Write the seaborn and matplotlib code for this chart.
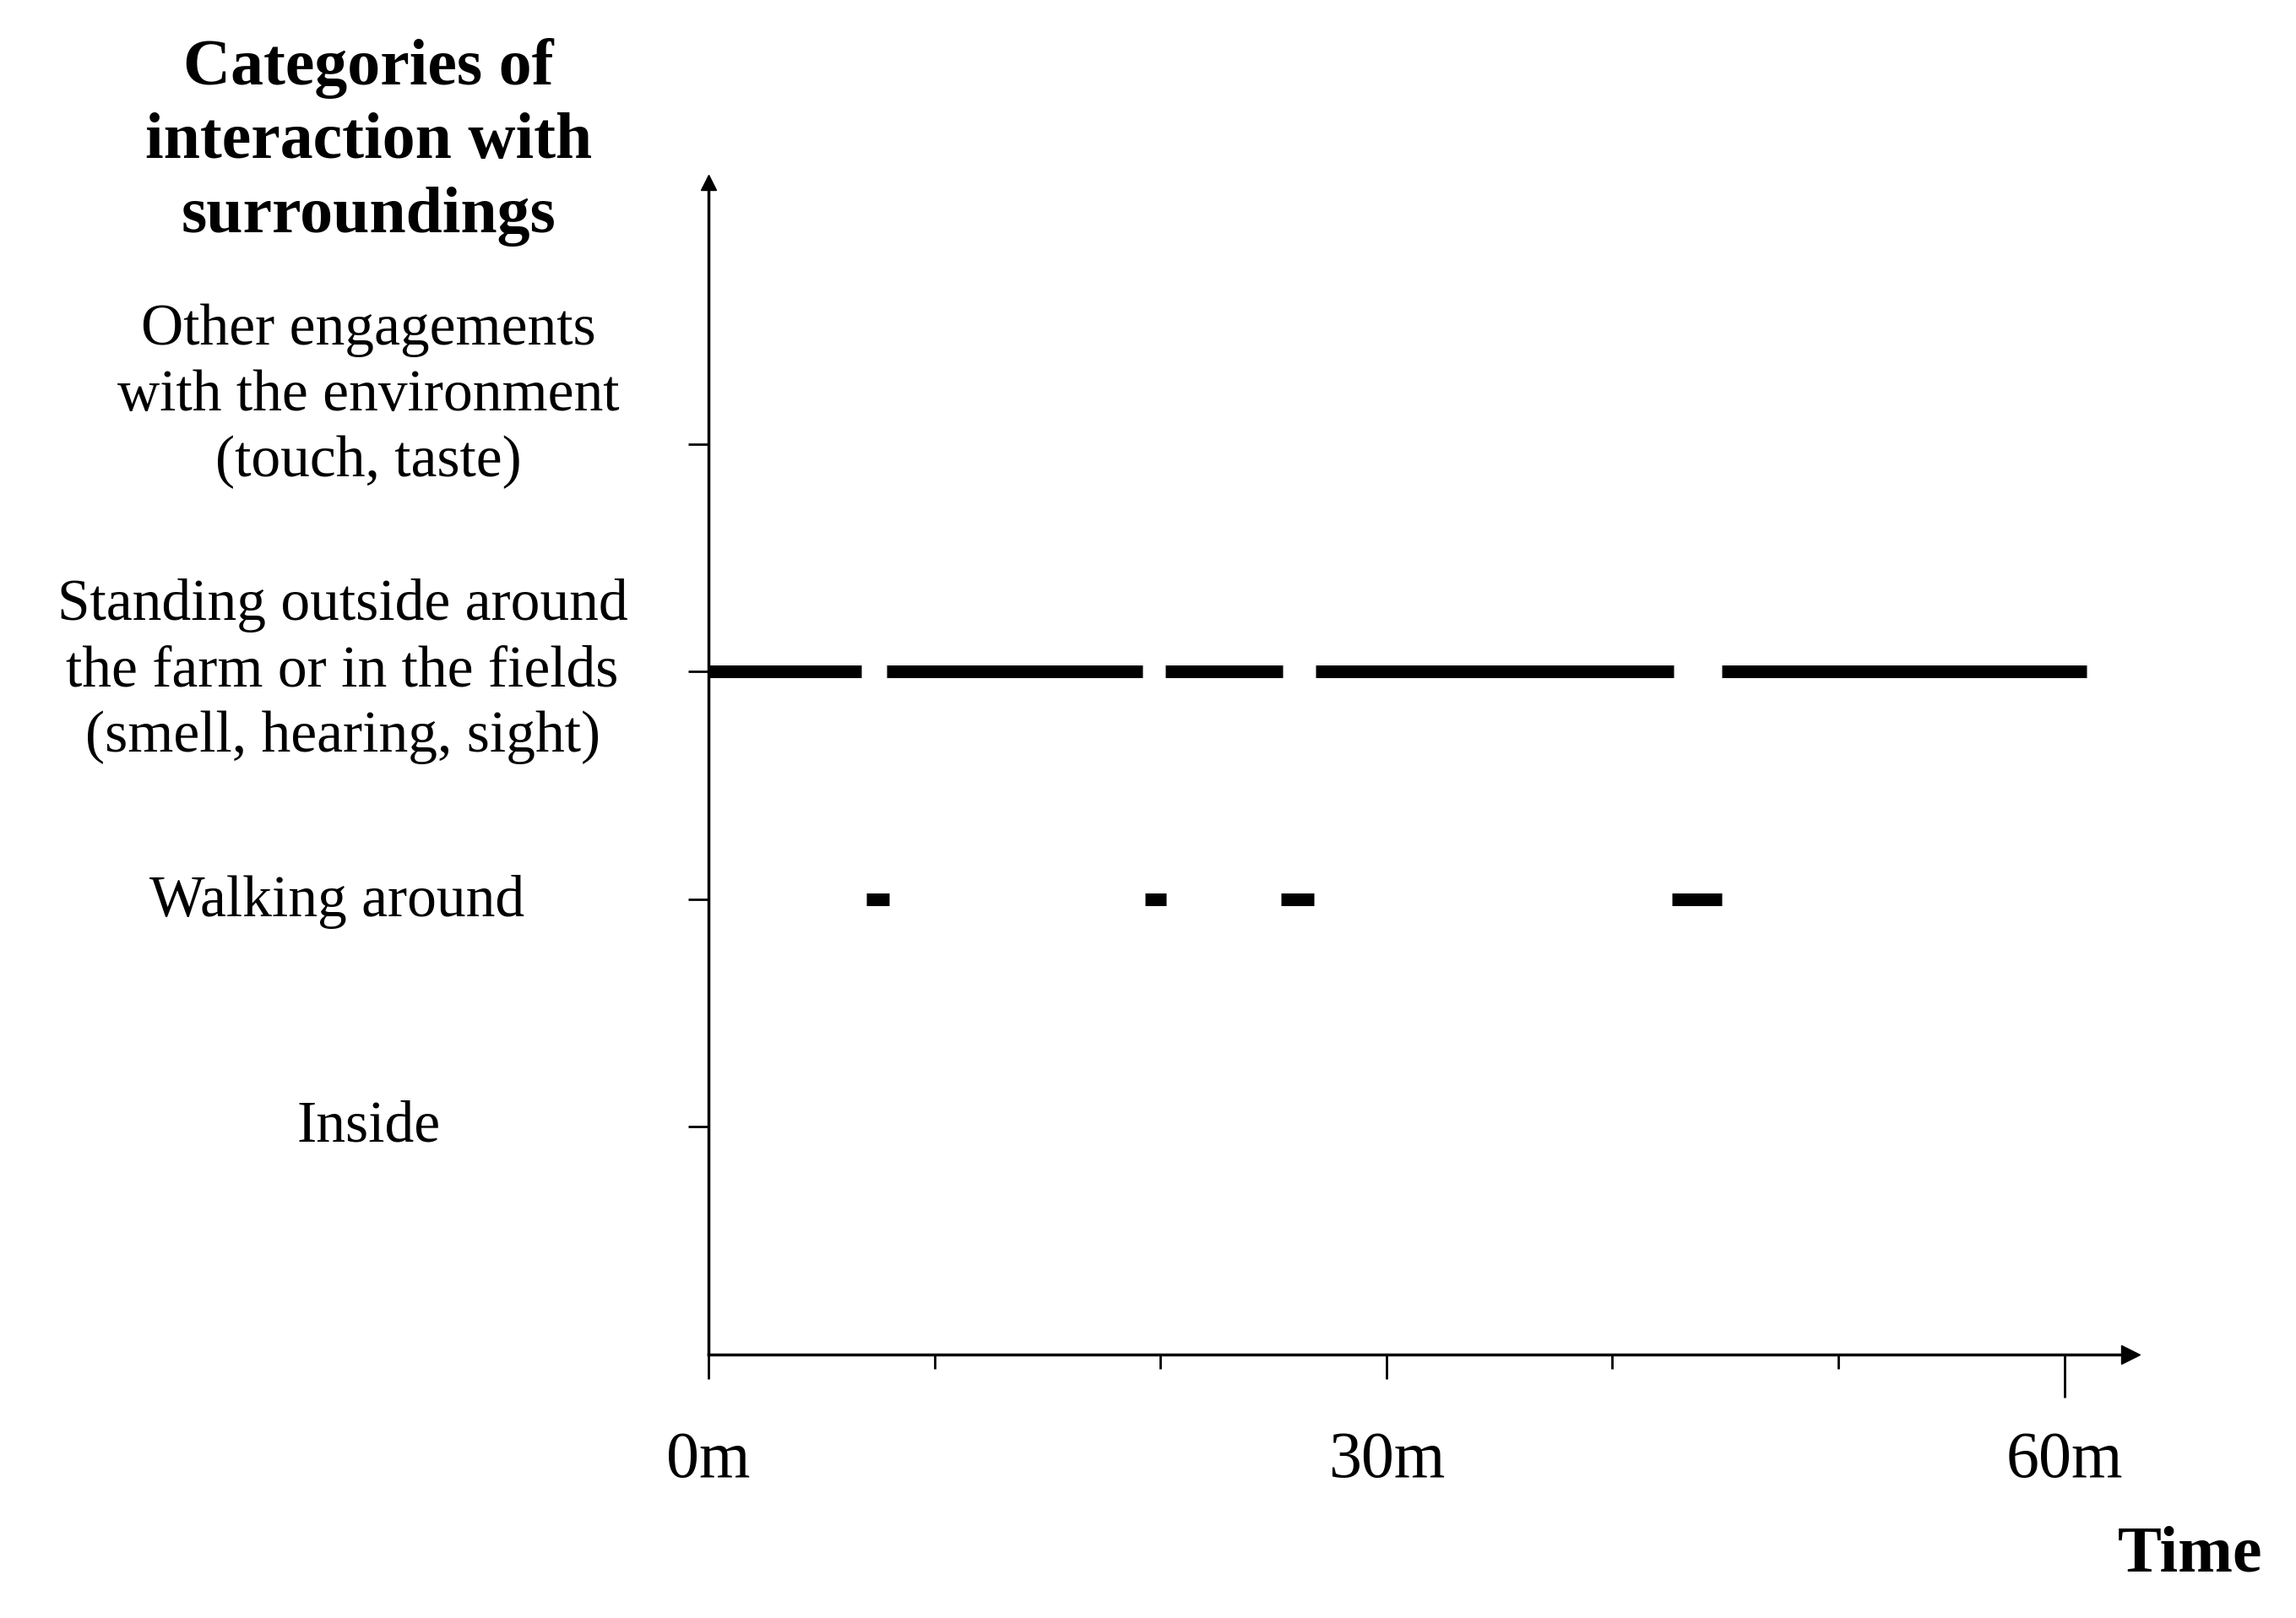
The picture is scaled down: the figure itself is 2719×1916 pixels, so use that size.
import numpy as np
import pandas as pd
import matplotlib
matplotlib.use("Agg")
import matplotlib.pyplot as plt
import seaborn as sns

# categories, bottom to top
categories = [
    "Inside",
    "Walking around",
    "Standing outside around\nthe farm or in the fields\n(smell, hearing, sight)",
    "Other engagements\nwith the environment\n(touch, taste)",
]
levels = [1, 2, 3, 4]

# time spans in minutes
standing_start = [0.0, 7.9, 20.2, 26.85, 44.85]
standing_end = [6.75, 19.2, 25.4, 42.7, 61.0]
walking_start = [7.0, 19.3, 25.35, 42.65]
walking_end = [8.0, 20.25, 26.8, 44.85]

tick_minutes = [0, 30, 60]
tick_labels = ["0m", "30m", "60m"]
minor_minutes = [10, 20, 40, 50]

rows = []
seg = 0
for lvl, starts, ends in [(3, standing_start, standing_end), (2, walking_start, walking_end)]:
    for s, e in zip(starts, ends):
        rows.append({"seg": seg, "minute": s, "level": lvl})
        rows.append({"seg": seg, "minute": e, "level": lvl})
        seg += 1
df = pd.DataFrame(rows)

sns.set_style("white")
plt.rcParams["font.family"] = ["Liberation Serif", "DejaVu Serif"]
plt.rcParams["text.color"] = "black"
plt.rcParams["xtick.color"] = "black"
plt.rcParams["ytick.color"] = "black"

fig = plt.figure(figsize=(27.19, 19.16), dpi=100)
ax = fig.add_axes([0.3086, 0.1628, 0.6193, 0.7247])

sns.lineplot(data=df, x="minute", y="level", units="seg", estimator=None,
             color="black", linewidth=10.8, solid_capstyle="butt",
             legend=False, ax=ax)

ax.set_xlim(0, 62.93)
ax.set_ylim(0, 5.15)

for side in ["top", "right"]:
    ax.spines[side].set_visible(False)
for side in ["left", "bottom"]:
    ax.spines[side].set_linewidth(2.5)
    ax.spines[side].set_color("black")

# arrow heads
ax.plot(1, 0, marker=">", ms=16, color="black", transform=ax.transAxes, clip_on=False)
ax.plot(0, 1, marker="^", ms=13, color="black", transform=ax.transAxes, clip_on=False)

ax.set_xticks(tick_minutes)
ax.set_xticklabels(tick_labels, fontsize=56, color="black")
ax.set_xticks(minor_minutes, minor=True)
ax.tick_params(axis="x", which="major", bottom=True, length=21, width=2, pad=44)
ax.tick_params(axis="x", which="minor", bottom=True, length=12, width=2)
ax.xaxis.get_major_ticks()[2].tick1line.set_markersize(37)

ax.set_yticks(levels)
ax.set_yticklabels([""] * len(levels))
ax.tick_params(axis="y", which="major", left=True, length=17, width=2)

ax.set_xlabel("")
ax.set_ylabel("")

# category labels
label_x = [-15.04, -16.46, -16.2, -15.04]
label_y = [1.0, 1.99, 3.0, 4.21]
for txt, lx, ly in zip(categories, label_x, label_y):
    ax.text(lx, ly, txt, ha="center", va="center", multialignment="center",
            fontsize=50, linespacing=1.3, color="black")

ax.text(-15.04, 5.325, "Categories of\ninteraction with\nsurroundings",
        ha="center", va="center", multialignment="center",
        fontsize=56, fontweight="bold", linespacing=1.3, color="black")

ax.text(68.76, -0.881, "Time", ha="right", va="center", fontsize=56,
        fontweight="bold", color="black")

fig.savefig("out.png", dpi=100, facecolor="white")
